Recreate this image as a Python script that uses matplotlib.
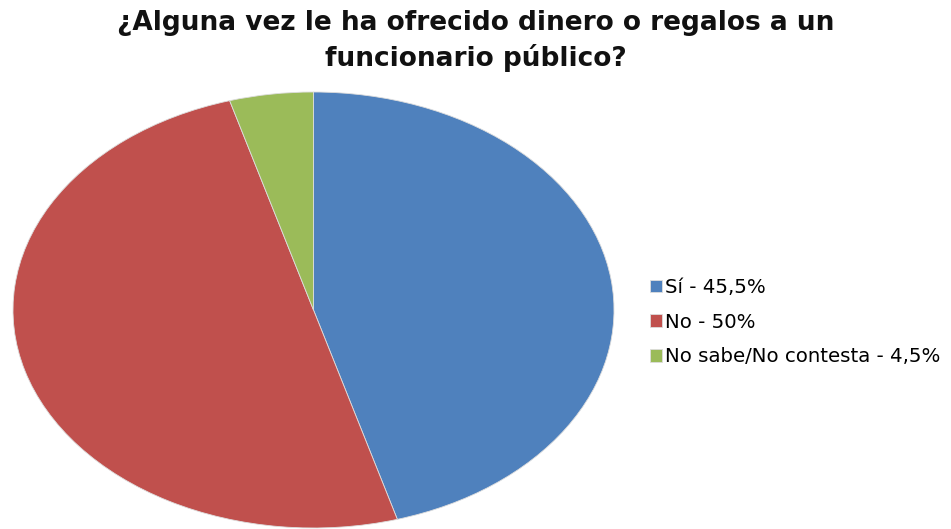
import matplotlib.pyplot as plt

# datos
labels = ["Sí - 45,5%", "No - 50%", "No sabe/No contesta - 4,5%"]
values = [45.5, 50.0, 4.5]
colors = ["#4F81BD", "#C0504D", "#9BBB59"]

title = "¿Alguna vez le ha ofrecido dinero o regalos a un\nfuncionario público?"

plt.rcParams["font.family"] = ["DejaVu Sans"]

fig = plt.figure(figsize=(9.51, 5.29), dpi=100)
ax = fig.add_axes([13 / 951, 1 / 529, 601 / 951, 436 / 529])

wedges, _ = ax.pie(values, colors=colors, startangle=90, counterclock=False,
                   radius=1.0, wedgeprops=dict(edgecolor="#dddddd", linewidth=0.6))
ax.set_aspect("auto")
ax.set_xlim(-1, 1)
ax.set_ylim(-1, 1)
ax.axis("off")

fig.text(476 / 951, 1 - 41 / 529, title, ha="center", va="center", fontsize=19,
         fontweight="bold", linespacing=1.38, color="#111111")

leg = fig.legend(wedges, labels, loc="center left",
                 bbox_to_anchor=(646 / 951, 1 - 322 / 529), frameon=False,
                 fontsize=14.2, handlelength=0.6, handleheight=0.6,
                 handletextpad=0.15, labelspacing=0.8, borderpad=0.2,
                 borderaxespad=0)

fig.savefig("out.png", dpi=100)
